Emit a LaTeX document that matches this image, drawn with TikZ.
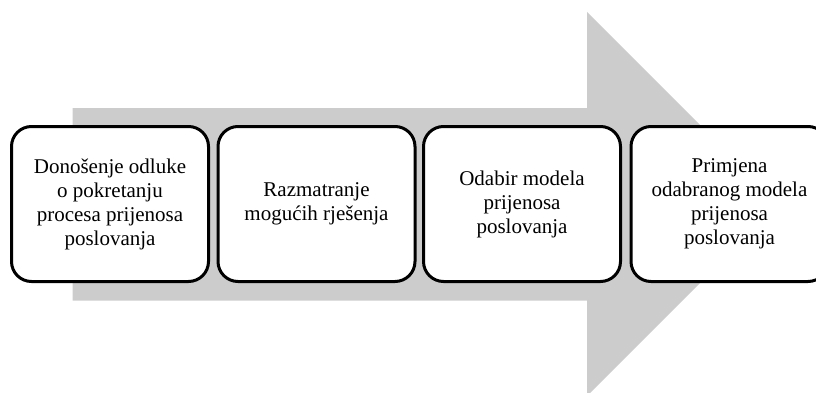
\documentclass[tikz,border=0pt]{standalone}
\usepackage{fontspec}
\setmainfont{Liberation Serif}
\definecolor{arrowgray}{RGB}{204,204,204}
\begin{document}
\begin{tikzpicture}[x=1pt,y=1pt,
  stepbox/.style={draw=black, line width=3pt, rounded corners=20pt, fill=white,
    minimum width=197pt, minimum height=155pt, align=center, inner sep=0pt,
    font=\fontsize{21}{24}\selectfont}]
\useasboundingbox (0,0) rectangle (816,392);
\clip (0,0) rectangle (816,392);
% big gray arrow
\fill[arrowgray] (72.5,284) -- (587,284) -- (587,380) -- (779,188) -- (587,-4) -- (587,91.5) -- (72.5,91.5) -- cycle;
% boxes
\node[stepbox] (b1) at (110,188) {Donošenje odluke\\o pokretanju\\procesa prijenosa\\poslovanja};
\node[stepbox] (b2) at (316.5,188) {Razmatranje\\mogućih rješenja};
\node[stepbox] (b3) at (522,188) {Odabir modela\\prijenosa\\poslovanja};
\node[stepbox] (b4) at (729.5,188) {Primjena\\odabranog modela\\prijenosa\\poslovanja};
\end{tikzpicture}
\end{document}
